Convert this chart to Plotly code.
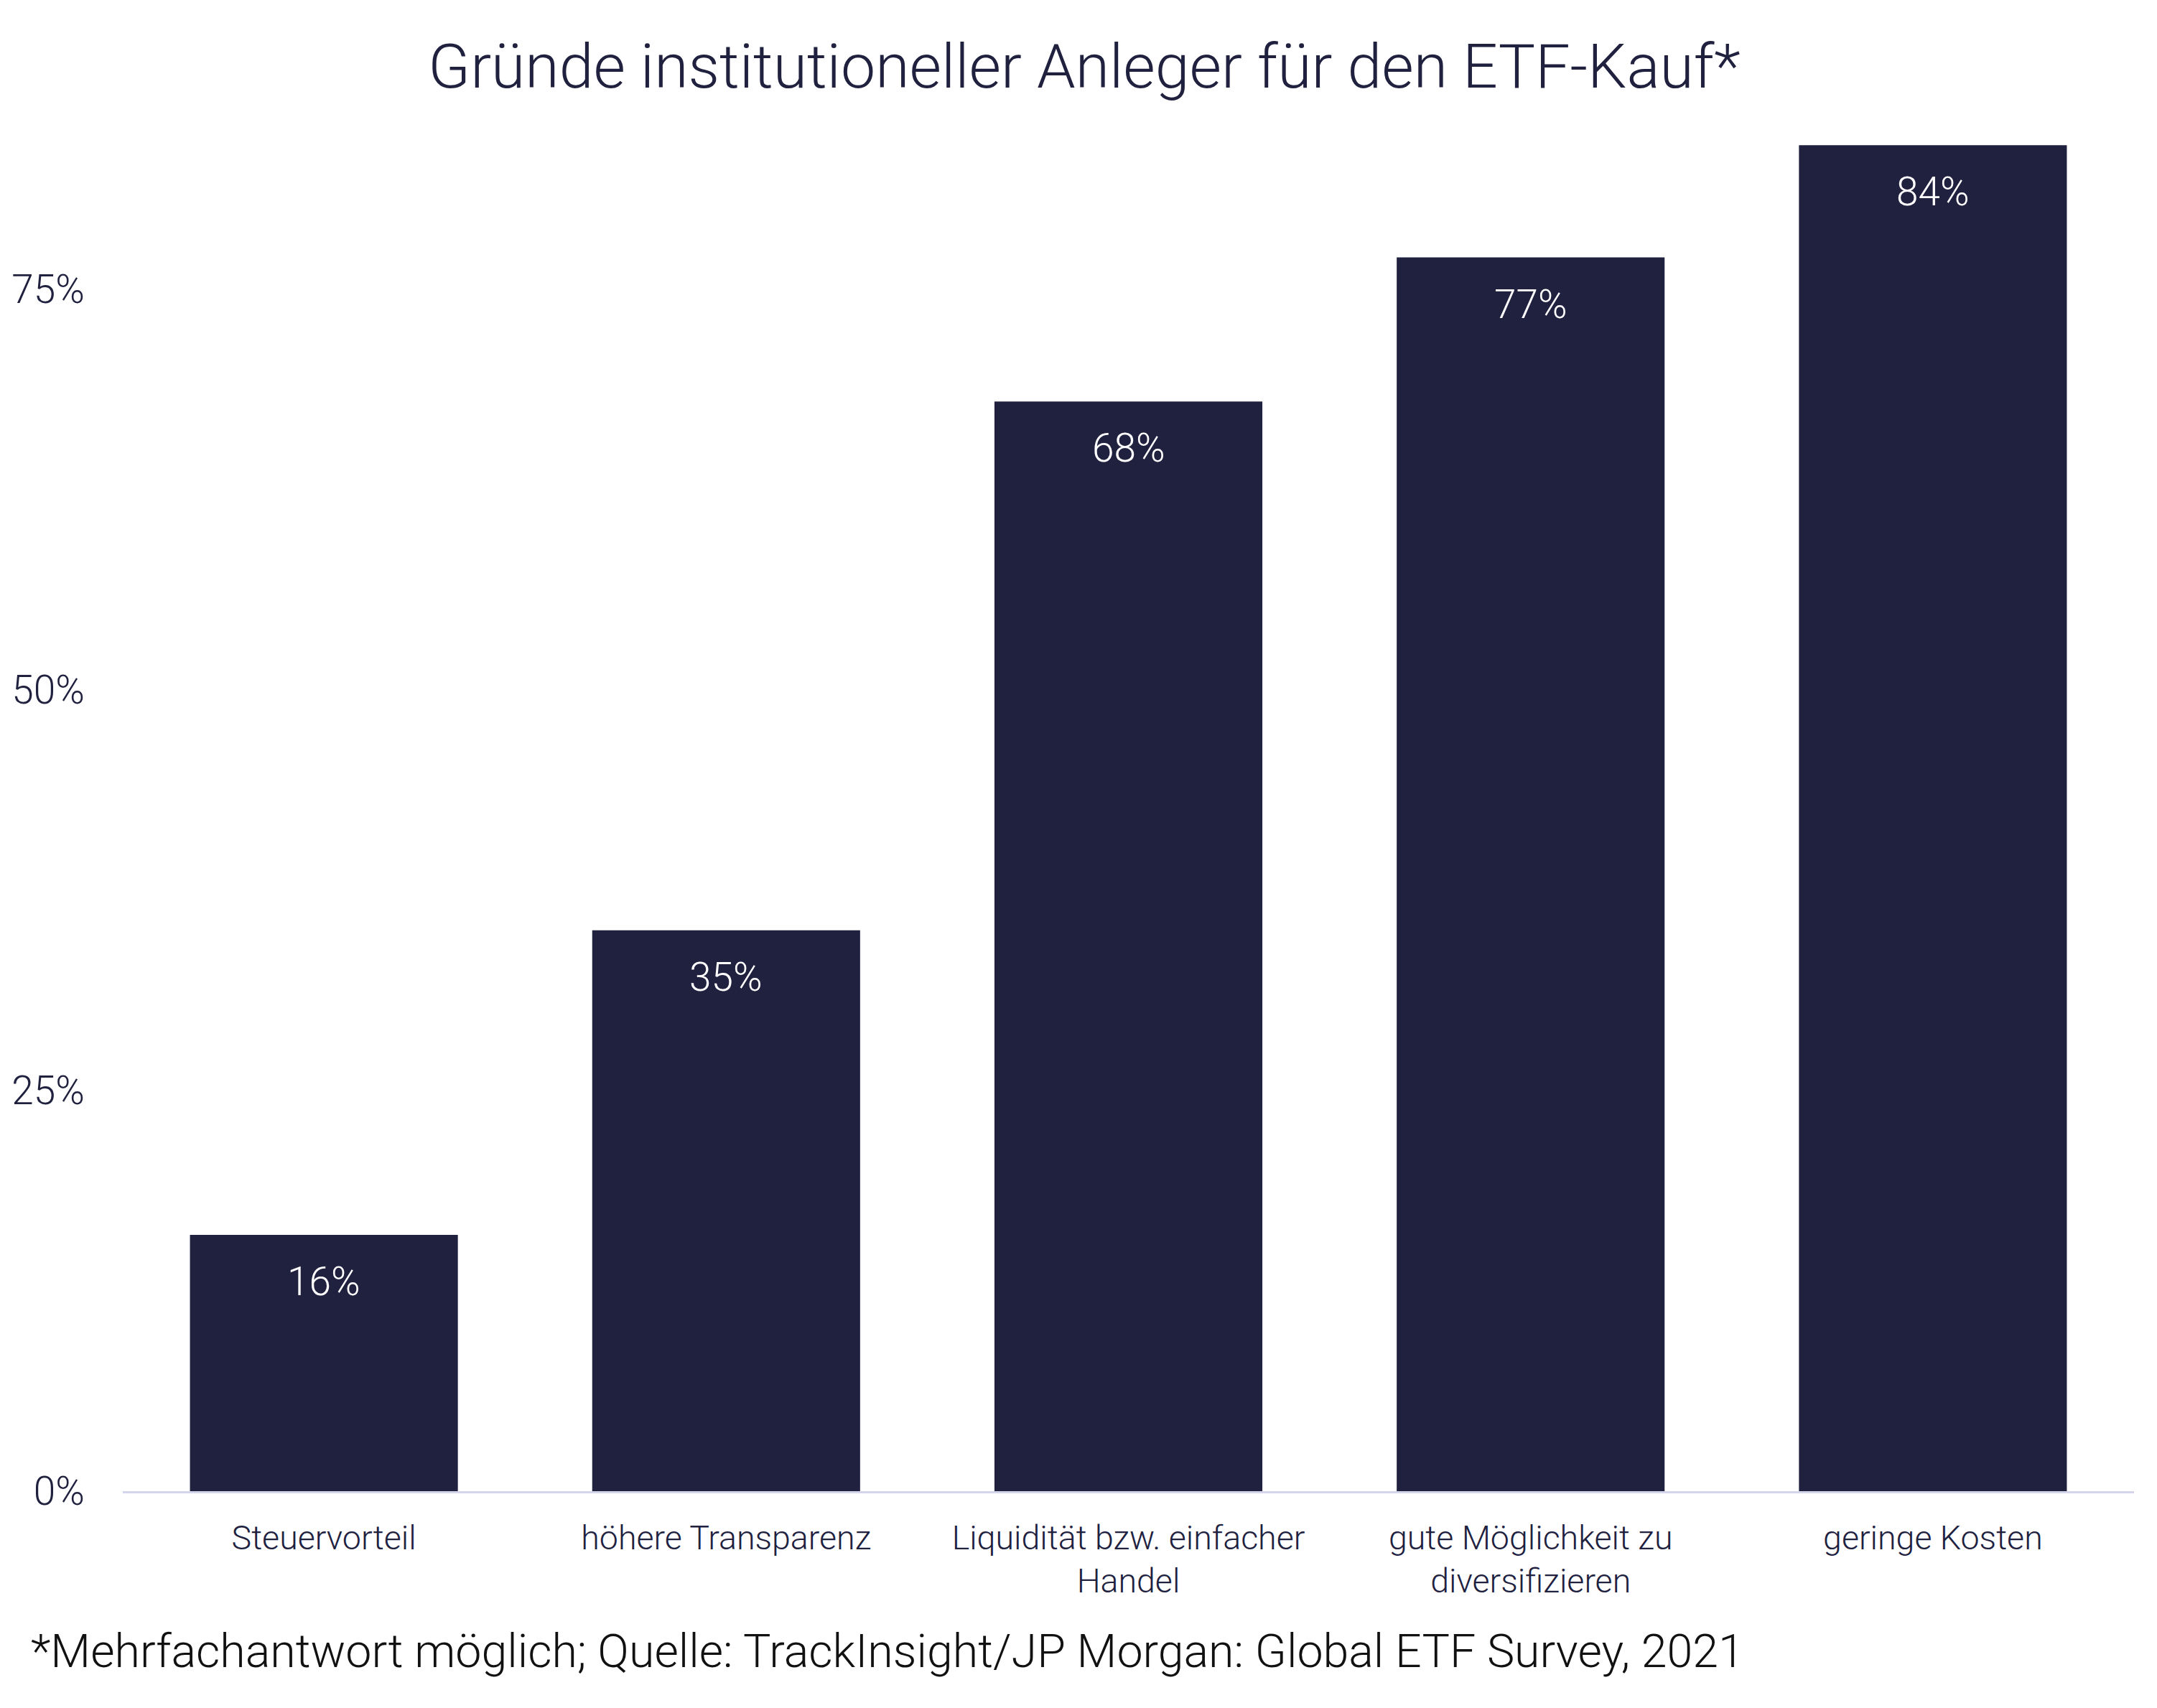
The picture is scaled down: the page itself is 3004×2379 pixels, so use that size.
import plotly.graph_objects as go

categories = [
    "Steuervorteil",
    "höhere Transparenz",
    "Liquidität bzw. einfacher<br>Handel",
    "gute Möglichkeit zu<br>diversifizieren",
    "geringe Kosten",
]
values = [16, 35, 68, 77, 84]
value_labels = ["16%", "35%", "68%", "77%", "84%"]
y_ticks = [0, 25, 50, 75]
y_tick_labels = ["0%", "25%", "50%", "75%"]

title_text = "Gründe institutioneller Anleger für den ETF-Kauf*"
footnote_text = "*Mehrfachantwort möglich; Quelle: TrackInsight/JP Morgan: Global ETF Survey, 2021"

NAVY = "#20213F"
FONT = "Roboto Light, Roboto"

W, H = 3004, 2379
OFF = 8  # page body margin offset
ML, MR, MT, MB = 171 - OFF, 32 + OFF, 113 - OFF, 302 + OFF
plot_h = H - MT - MB
plot_w = W - ML - MR

fig = go.Figure()
fig.add_trace(go.Bar(
    x=categories,
    y=values,
    marker=dict(color=NAVY, line=dict(width=0)),
    hoverinfo="skip",
))

for c, v, t in zip(categories, values, value_labels):
    fig.add_annotation(
        x=c, y=v, xref="x", yref="y", text=t, showarrow=False,
        yanchor="middle", yshift=-65,
        font=dict(family=FONT, size=55, color="white", weight=300),
    )

fig.add_annotation(
    x=(41 - 171) / plot_w, y=(2077 - 2300) / plot_h, xref="paper", yref="paper",
    xanchor="left", yanchor="middle", text=footnote_text, showarrow=False,
    font=dict(family=FONT, size=64.5, color="#111111", weight=300),
)

fig.update_layout(
    width=W, height=H,
    margin=dict(l=ML, r=MR, t=MT, b=MB, autoexpand=False),
    paper_bgcolor="white", plot_bgcolor="white",
    bargap=0.334,
    showlegend=False,
    title=dict(
        text=title_text, x=0.5, xanchor="center", xref="container",
        y=1 - (92 - OFF) / H, yanchor="middle", yref="container",
        font=dict(family=FONT, size=86, color=NAVY, weight=300),
    ),
    font=dict(family=FONT, color=NAVY, weight=300),
    xaxis=dict(
        showgrid=False, zeroline=False,
        showline=True, linecolor="#D4D4EA", linewidth=3,
        ticks="", ticklabelstandoff=22,
        tickfont=dict(family=FONT, size=46.5, color=NAVY, weight=300),
    ),
    yaxis=dict(
        range=[0, 88], showgrid=False, zeroline=False, showline=False,
        tickvals=y_ticks, ticktext=y_tick_labels, ticks="",
        ticklabelstandoff=52,
        tickfont=dict(family=FONT, size=55, color=NAVY, weight=300),
    ),
)

fig.write_html("out.html")
